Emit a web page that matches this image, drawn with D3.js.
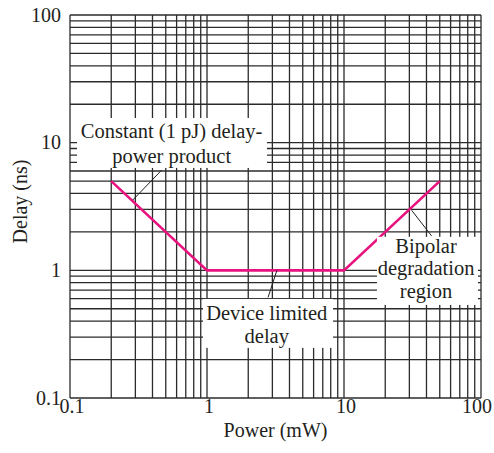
<!DOCTYPE html>
<head>
    <meta charset="utf-8">
    <script src="https://d3js.org/d3.v7.min.js"></script>
    <style>
        body { margin:0; background:#fff; }
        text { font-family: "Liberation Serif", Tinos, "Times New Roman", Times, serif; font-size: 20px; fill: #231f20; }
        text.note { font-size: 20.5px; }
    </style>
</head>
<body>
<script>
    // data
    var powerTicks = [0.1, 1, 10, 100];
    var delayTicks = [0.1, 1, 10, 100];
    var curvePower = [0.2, 1, 10, 50];
    var curveDelay = [5, 1, 1, 5];

    // annotation text (one entry per line)
    var noteConstant = ["Constant (1 pJ) delay-", "power product"];
    var noteDevice = ["Device limited", "delay"];
    var noteBipolar = ["Bipolar", "degradation", "region"];

    var margin = {top: 15, right: 13, bottom: 55, left: 70},
        width = 494 - margin.left - margin.right,
        height = 453 - margin.top - margin.bottom;

    var svg = d3.select("body").append("svg")
        .attr("width", 494)
        .attr("height", 453)
        .append("g")
        .attr("transform", "translate(" + margin.left + "," + margin.top + ")");

    var x = d3.scaleLog().domain([0.1, 100]).range([0, width]);
    var y = d3.scaleLog().domain([0.1, 100]).range([height, 0]);

    // grid values 1..9 per decade
    var gridVals = [];
    [0.1, 1, 10].forEach(function(d) {
        for (var k = 1; k < 10; k++) gridVals.push(d * k);
    });
    gridVals.push(100);

    svg.append("g").selectAll("line")
        .data(gridVals).enter().append("line")
        .attr("x1", function(d) { return x(d); })
        .attr("x2", function(d) { return x(d); })
        .attr("y1", 0).attr("y2", height)
        .attr("stroke", "#2b2b2b").attr("stroke-width", 1.3);

    svg.append("g").selectAll("line")
        .data(gridVals).enter().append("line")
        .attr("y1", function(d) { return y(d); })
        .attr("y2", function(d) { return y(d); })
        .attr("x1", 0).attr("x2", width)
        .attr("stroke", "#2b2b2b").attr("stroke-width", 1.3);

    // the curve
    var pts = curvePower.map(function(p, i) { return [p, curveDelay[i]]; });
    svg.append("path")
        .attr("d", d3.line().x(function(d) { return x(d[0]); }).y(function(d) { return y(d[1]); })(pts))
        .attr("fill", "none")
        .attr("stroke", "#e8137f")
        .attr("stroke-width", 2.6);

    // tick labels
    var fmt = function(d) { return d < 1 ? "0.1" : String(d); };
    svg.append("g").selectAll("text")
        .data(delayTicks).enter().append("text")
        .attr("x", -9)
        .attr("y", function(d) { return y(d); })
        .attr("dy", "0.33em")
        .attr("text-anchor", "end")
        .text(fmt);

    svg.append("g").selectAll("text")
        .data(powerTicks).enter().append("text")
        .attr("x", function(d, i) { return i === powerTicks.length - 1 ? width + 11 : x(d) + 2; })
        .attr("y", height + 15)
        .attr("text-anchor", function(d, i) { return i === powerTicks.length - 1 ? "end" : "middle"; })
        .text(fmt);

    svg.append("text")
        .attr("x", width / 2)
        .attr("y", height + 39)
        .attr("text-anchor", "middle")
        .text("Power (mW)");

    svg.append("text")
        .attr("transform", "translate(-43," + (height / 2 - 5) + ") rotate(-90)")
        .attr("text-anchor", "middle")
        .text("Delay (ns)");

    // annotation boxes: [xmin, xmax, ymax, ymin] in data units
    function note(lines, box, cx, base0, step, lead) {
        svg.append("rect")
            .attr("x", x(box[0]))
            .attr("y", y(box[2]))
            .attr("width", x(box[1]) - x(box[0]))
            .attr("height", y(box[3]) - y(box[2]))
            .attr("fill", "#fff");
        lines.forEach(function(t, i) {
            svg.append("text")
                .attr("class", "note")
                .attr("x", x(cx))
                .attr("y", y(base0) + i * step)
                .attr("text-anchor", "middle")
                .text(t);
        });
        svg.append("line")
            .attr("x1", x(lead[0])).attr("y1", y(lead[1]))
            .attr("x2", x(lead[2])).attr("y2", y(lead[3]))
            .attr("stroke", "#231f20").attr("stroke-width", 1);
    }

    note(noteConstant, [0.1125, 2.74, 15.6, 6.34], 0.552, 10.9, 25, [0.467, 6.1, 0.287, 3.55]);
    note(noteDevice, [0.935, 8.32, 0.597, 0.247], 2.73, 0.409, 23, [3.24, 1, 2.79, 0.614]);
    note(noteBipolar, [17.4, 95, 1.83, 0.536], 39.7, 1.37, 22.5, [31.2, 2.95, 43.6, 1.86]);
</script>
</body>
